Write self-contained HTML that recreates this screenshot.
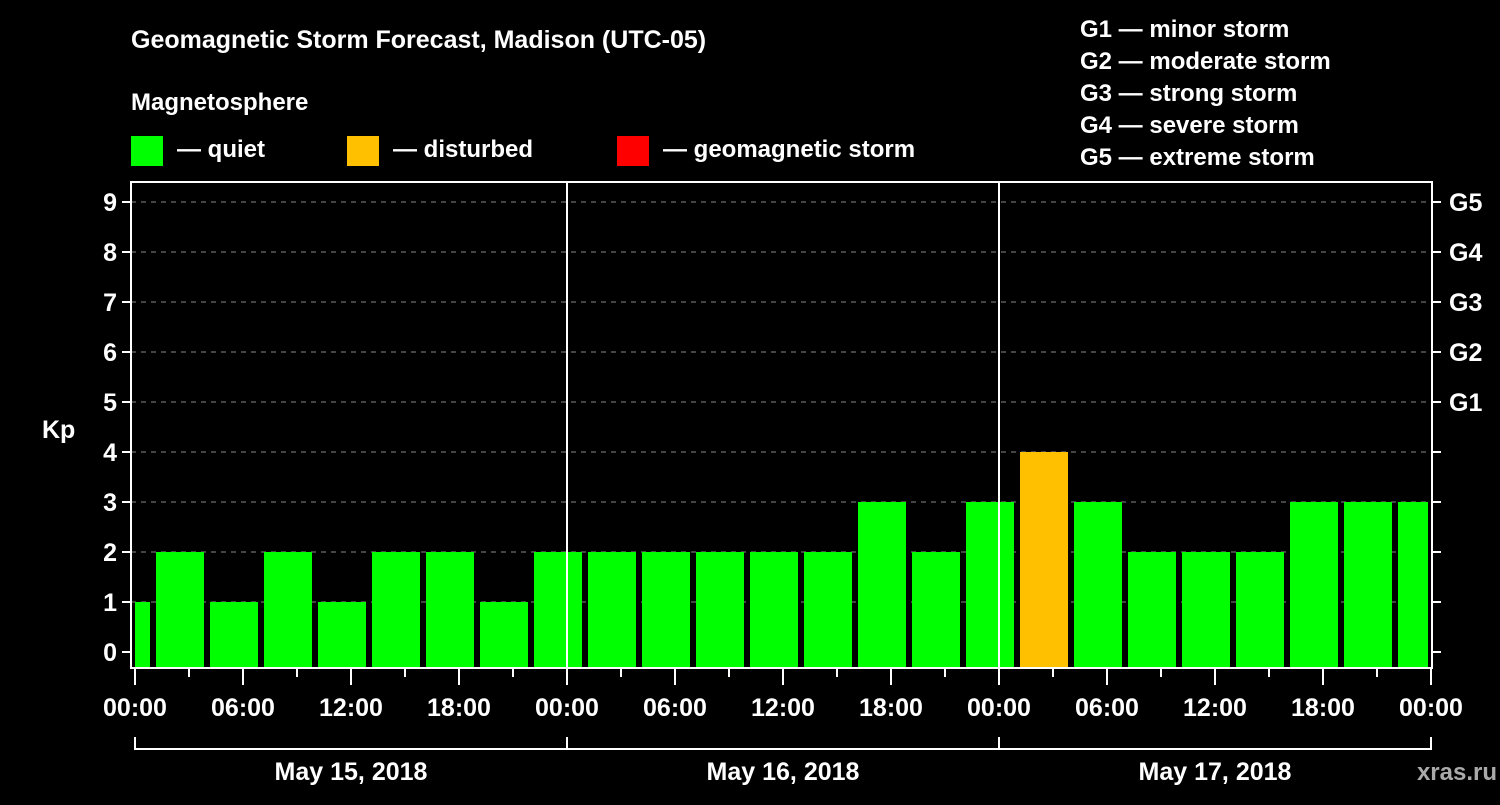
<!DOCTYPE html>
<html><head><meta charset="utf-8"><style>
body{margin:0;background:#000;width:1500px;height:800px;overflow:hidden}
svg text{font-family:"Liberation Sans",sans-serif;font-weight:bold;fill:#fff}
</style></head><body>
<svg id="chart" width="1500" height="800" xmlns="http://www.w3.org/2000/svg">
<text x="131" y="48" font-size="25">Geomagnetic Storm Forecast, Madison (UTC-05)</text>
<text x="131" y="110" font-size="24">Magnetosphere</text>
<g><rect x="131" y="136" width="32" height="30" fill="#00ff00"/><text x="177" y="157" font-size="24">— quiet</text></g>
<g><rect x="347" y="136" width="32" height="30" fill="#ffc000"/><text x="393" y="157" font-size="24">— disturbed</text></g>
<g><rect x="617" y="136" width="32" height="30" fill="#ff0000"/><text x="663" y="157" font-size="24">— geomagnetic storm</text></g>
<g font-size="24">
<text x="1080" y="37">G1 — minor storm</text>
<text x="1080" y="69">G2 — moderate storm</text>
<text x="1080" y="101">G3 — strong storm</text>
<text x="1080" y="133">G4 — severe storm</text>
<text x="1080" y="165">G5 — extreme storm</text>
</g>
<text x="42" y="438" font-size="25">Kp</text>
<text x="1497" y="780" font-size="24" text-anchor="end" fill="#aaa" style="fill:#aaa">xras.ru</text>
<g id="plot"></g>
</svg>
<script>
const kpValues=[1,2,1,2,1,2,2,1,2,2,2,2,2,2,3,2,3,4,3,2,2,2,3,3,3];
const yTicks=[0,1,2,3,4,5,6,7,8,9];
const gLabels=["G1","G2","G3","G4","G5"];
const gLevels=[5,6,7,8,9];
const timeLabels=["00:00","06:00","12:00","18:00","00:00","06:00","12:00","18:00","00:00","06:00","12:00","18:00","00:00"];
const dayLabels=["May 15, 2018","May 16, 2018","May 17, 2018"];
const L=131,R=1432,T=182,B=668,X0=135,HOUR=18;
const y=v=>652-50*v;
const x=h=>X0+HOUR*h;
const NS="http://www.w3.org/2000/svg";
const p=document.getElementById('plot');
function mk(t,a){const e=document.createElementNS(NS,t);for(const k in a)e.setAttribute(k,a[k]);p.appendChild(e);return e;}
yTicks.forEach(v=>{
 if(v>0){const g=mk('line',{x1:L,x2:R,y1:y(v),y2:y(v),stroke:'#888','stroke-dasharray':'5,5'});
 
 }
 mk('line',{x1:L-9,x2:L,y1:y(v),y2:y(v),stroke:'#fff','stroke-width':2});
 mk('line',{x1:R,x2:R+9,y1:y(v),y2:y(v),stroke:'#fff','stroke-width':2});
 const t=mk('text',{x:L-14,y:y(v)+9,'font-size':25,'text-anchor':'end'});t.textContent=v;
 
 
});
gLabels.forEach((s,i)=>{const t=mk('text',{x:R+17,y:y(gLevels[i])+9,'font-size':25});t.textContent=s;
 
 });
kpValues.forEach((v,i)=>{
 let x1=x(3*i-2)+3,x2=x(3*i+1)-3;x1=Math.max(x1,X0);x2=Math.min(x2,1428);
 const r=mk('rect',{x:x1,y:y(v),width:x2-x1,height:B-y(v),fill:v>=5?'#ff0000':v>=4?'#ffc000':'#00ff00'});
 
 
});
[24,48].forEach(h=>mk('line',{x1:x(h),x2:x(h),y1:T,y2:B,stroke:'#fff','stroke-width':2}));
const box=mk('rect',{x:L,y:T,width:R-L,height:B-T,fill:'none',stroke:'#fff','stroke-width':2});


for(let h=0;h<=72;h+=3){mk('line',{x1:x(h),x2:x(h),y1:B,y2:h%6?B+9:B+17,stroke:'#fff','stroke-width':2});}
timeLabels.forEach((s,i)=>{const t=mk('text',{x:x(6*i),y:716,'font-size':25,'text-anchor':'middle'});t.textContent=s;
 
 });
dayLabels.forEach((s,i)=>{
 const a=x(24*i),b=x(24*i+24);
 mk('path',{d:`M${a},737V749H${b}V737`,fill:'none',stroke:'#fff','stroke-width':2});
 const t=mk('text',{x:(a+b)/2,y:780,'font-size':25,'text-anchor':'middle'});t.textContent=s;
 
 
});
</script>
</body></html>
